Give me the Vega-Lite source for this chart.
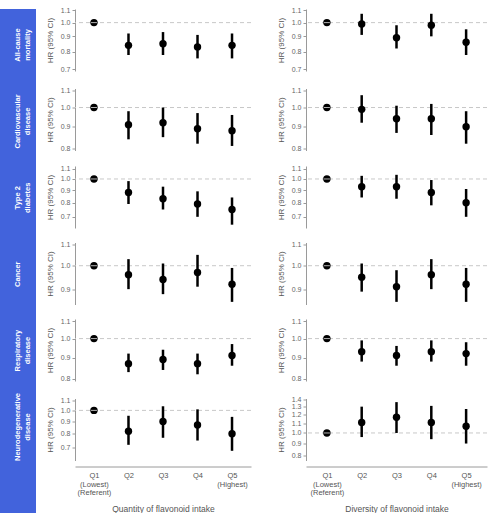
{
"$schema":"https://vega.github.io/schema/vega-lite/v6.json",
"padding":{"left":0,"top":6,"right":0,"bottom":0},
"config":{"view":{"stroke":null},"font":"Liberation Sans",
"axis":{"grid":false,"labelFontSize":7,"titleFontSize":8,"labelColor":"#666","titleColor":"#555","domainColor":"#9a9a9a","tickColor":"#9a9a9a","tickSize":3,"titleFontWeight":"normal","labelPadding":2,"titlePadding":6},
"axisX":{"ticks":false,"offset":6,"labelAngle":0,"labelFontSize":7.5,"labelLineHeight":8.5,"labelPadding":5,"titlePadding":8,"labelColor":"#555","titleFontSize":8.5}},
"datasets":{
"labels":[{"outcome":"All-cause|mortality"},{"outcome":"Cardiovascular|disease"},{"outcome":"Type 2|diabetes"},{"outcome":"Cancer"},{"outcome":"Respiratory|disease"},{"outcome":"Neurodegenerative|disease"}],
"hr":[
{"outcome":"All-cause mortality","intake":"Quantity","quintile":"Q1","hr":1.0,"lower":1.0,"upper":1.0},
{"outcome":"All-cause mortality","intake":"Quantity","quintile":"Q2","hr":0.84,"lower":0.78,"upper":0.92},
{"outcome":"All-cause mortality","intake":"Quantity","quintile":"Q3","hr":0.85,"lower":0.78,"upper":0.93},
{"outcome":"All-cause mortality","intake":"Quantity","quintile":"Q4","hr":0.83,"lower":0.76,"upper":0.91},
{"outcome":"All-cause mortality","intake":"Quantity","quintile":"Q5","hr":0.84,"lower":0.76,"upper":0.92},
{"outcome":"Cardiovascular disease","intake":"Quantity","quintile":"Q1","hr":1.0,"lower":1.0,"upper":1.0},
{"outcome":"Cardiovascular disease","intake":"Quantity","quintile":"Q2","hr":0.91,"lower":0.84,"upper":0.98},
{"outcome":"Cardiovascular disease","intake":"Quantity","quintile":"Q3","hr":0.92,"lower":0.85,"upper":1.0},
{"outcome":"Cardiovascular disease","intake":"Quantity","quintile":"Q4","hr":0.89,"lower":0.82,"upper":0.97},
{"outcome":"Cardiovascular disease","intake":"Quantity","quintile":"Q5","hr":0.88,"lower":0.81,"upper":0.96},
{"outcome":"Type 2 diabetes","intake":"Quantity","quintile":"Q1","hr":1.0,"lower":1.0,"upper":1.0},
{"outcome":"Type 2 diabetes","intake":"Quantity","quintile":"Q2","hr":0.88,"lower":0.79,"upper":0.98},
{"outcome":"Type 2 diabetes","intake":"Quantity","quintile":"Q3","hr":0.83,"lower":0.75,"upper":0.93},
{"outcome":"Type 2 diabetes","intake":"Quantity","quintile":"Q4","hr":0.79,"lower":0.7,"upper":0.89},
{"outcome":"Type 2 diabetes","intake":"Quantity","quintile":"Q5","hr":0.75,"lower":0.65,"upper":0.84},
{"outcome":"Cancer","intake":"Quantity","quintile":"Q1","hr":1.0,"lower":1.0,"upper":1.0},
{"outcome":"Cancer","intake":"Quantity","quintile":"Q2","hr":0.96,"lower":0.9,"upper":1.03},
{"outcome":"Cancer","intake":"Quantity","quintile":"Q3","hr":0.94,"lower":0.88,"upper":1.01},
{"outcome":"Cancer","intake":"Quantity","quintile":"Q4","hr":0.97,"lower":0.91,"upper":1.05},
{"outcome":"Cancer","intake":"Quantity","quintile":"Q5","hr":0.92,"lower":0.85,"upper":0.99},
{"outcome":"Respiratory disease","intake":"Quantity","quintile":"Q1","hr":1.0,"lower":1.0,"upper":1.0},
{"outcome":"Respiratory disease","intake":"Quantity","quintile":"Q2","hr":0.87,"lower":0.83,"upper":0.92},
{"outcome":"Respiratory disease","intake":"Quantity","quintile":"Q3","hr":0.89,"lower":0.84,"upper":0.94},
{"outcome":"Respiratory disease","intake":"Quantity","quintile":"Q4","hr":0.87,"lower":0.82,"upper":0.92},
{"outcome":"Respiratory disease","intake":"Quantity","quintile":"Q5","hr":0.91,"lower":0.86,"upper":0.97},
{"outcome":"Neurodegenerative disease","intake":"Quantity","quintile":"Q1","hr":1.0,"lower":1.0,"upper":1.0},
{"outcome":"Neurodegenerative disease","intake":"Quantity","quintile":"Q2","hr":0.82,"lower":0.72,"upper":0.95},
{"outcome":"Neurodegenerative disease","intake":"Quantity","quintile":"Q3","hr":0.9,"lower":0.77,"upper":1.04},
{"outcome":"Neurodegenerative disease","intake":"Quantity","quintile":"Q4","hr":0.87,"lower":0.75,"upper":1.01},
{"outcome":"Neurodegenerative disease","intake":"Quantity","quintile":"Q5","hr":0.8,"lower":0.68,"upper":0.94},
{"outcome":"All-cause mortality","intake":"Diversity","quintile":"Q1","hr":1.0,"lower":1.0,"upper":1.0},
{"outcome":"All-cause mortality","intake":"Diversity","quintile":"Q2","hr":0.99,"lower":0.91,"upper":1.07},
{"outcome":"All-cause mortality","intake":"Diversity","quintile":"Q3","hr":0.89,"lower":0.82,"upper":0.98},
{"outcome":"All-cause mortality","intake":"Diversity","quintile":"Q4","hr":0.98,"lower":0.9,"upper":1.07},
{"outcome":"All-cause mortality","intake":"Diversity","quintile":"Q5","hr":0.86,"lower":0.78,"upper":0.95},
{"outcome":"Cardiovascular disease","intake":"Diversity","quintile":"Q1","hr":1.0,"lower":1.0,"upper":1.0},
{"outcome":"Cardiovascular disease","intake":"Diversity","quintile":"Q2","hr":0.99,"lower":0.92,"upper":1.07},
{"outcome":"Cardiovascular disease","intake":"Diversity","quintile":"Q3","hr":0.94,"lower":0.87,"upper":1.01},
{"outcome":"Cardiovascular disease","intake":"Diversity","quintile":"Q4","hr":0.94,"lower":0.86,"upper":1.02},
{"outcome":"Cardiovascular disease","intake":"Diversity","quintile":"Q5","hr":0.9,"lower":0.82,"upper":0.98},
{"outcome":"Type 2 diabetes","intake":"Diversity","quintile":"Q1","hr":1.0,"lower":1.0,"upper":1.0},
{"outcome":"Type 2 diabetes","intake":"Diversity","quintile":"Q2","hr":0.93,"lower":0.84,"upper":1.03},
{"outcome":"Type 2 diabetes","intake":"Diversity","quintile":"Q3","hr":0.93,"lower":0.83,"upper":1.04},
{"outcome":"Type 2 diabetes","intake":"Diversity","quintile":"Q4","hr":0.88,"lower":0.78,"upper":0.99},
{"outcome":"Type 2 diabetes","intake":"Diversity","quintile":"Q5","hr":0.8,"lower":0.7,"upper":0.91},
{"outcome":"Cancer","intake":"Diversity","quintile":"Q1","hr":1.0,"lower":1.0,"upper":1.0},
{"outcome":"Cancer","intake":"Diversity","quintile":"Q2","hr":0.95,"lower":0.89,"upper":1.01},
{"outcome":"Cancer","intake":"Diversity","quintile":"Q3","hr":0.91,"lower":0.85,"upper":0.98},
{"outcome":"Cancer","intake":"Diversity","quintile":"Q4","hr":0.96,"lower":0.9,"upper":1.03},
{"outcome":"Cancer","intake":"Diversity","quintile":"Q5","hr":0.92,"lower":0.85,"upper":0.99},
{"outcome":"Respiratory disease","intake":"Diversity","quintile":"Q1","hr":1.0,"lower":1.0,"upper":1.0},
{"outcome":"Respiratory disease","intake":"Diversity","quintile":"Q2","hr":0.93,"lower":0.88,"upper":0.99},
{"outcome":"Respiratory disease","intake":"Diversity","quintile":"Q3","hr":0.91,"lower":0.86,"upper":0.96},
{"outcome":"Respiratory disease","intake":"Diversity","quintile":"Q4","hr":0.93,"lower":0.88,"upper":0.99},
{"outcome":"Respiratory disease","intake":"Diversity","quintile":"Q5","hr":0.92,"lower":0.86,"upper":0.98},
{"outcome":"Neurodegenerative disease","intake":"Diversity","quintile":"Q1","hr":1.0,"lower":1.0,"upper":1.0},
{"outcome":"Neurodegenerative disease","intake":"Diversity","quintile":"Q2","hr":1.11,"lower":0.96,"upper":1.3},
{"outcome":"Neurodegenerative disease","intake":"Diversity","quintile":"Q3","hr":1.17,"lower":1.0,"upper":1.36},
{"outcome":"Neurodegenerative disease","intake":"Diversity","quintile":"Q4","hr":1.11,"lower":0.94,"upper":1.31},
{"outcome":"Neurodegenerative disease","intake":"Diversity","quintile":"Q5","hr":1.07,"lower":0.9,"upper":1.27}
]},
"spacing":10,
"hconcat":[
{"width":36,"height":504,"view":{"fill":"#4263dc","stroke":null},"data":{"name":"labels"},
"mark":{"type":"text","angle":270,"color":"white","fontWeight":"bold","fontSize":7.5,"lineBreak":"|","lineHeight":9.5},
"encoding":{"text":{"field":"outcome","type":"nominal"},"y":{"field":"outcome","type":"nominal","sort":null,"scale":{"type":"point","range":[36,418],"padding":0},"axis":null}}},
{"vconcat":[
{"spacing":25,"hconcat":[
{"width":176,"height":62,"data":{"name":"hr"},"transform":[{"filter":"datum.outcome==='All-cause mortality'&&datum.intake==='Quantity'"}],"layer":[
{"transform":[{"filter":"datum.quintile==='Q1'"}],"mark":{"type":"rule","color":"#c8c8c8","strokeDash":[4,3],"strokeWidth":1},"encoding":{"y":{"datum":1,"type":"quantitative"}}},
{"mark":{"type":"rule","color":"black","strokeWidth":2.5},"encoding":{"x":{"field":"quintile","type":"ordinal","scale":{"type":"point","padding":0.55},"axis":null},"y":{"field":"lower","type":"quantitative","scale":{"type":"log","domain":[0.69,1.11],"nice":false},"axis":{"title":"HR (95% CI)","values":[0.7,0.8,0.9,1,1.1],"format":".1f"}},"y2":{"field":"upper"}}},
{"mark":{"type":"circle","size":55,"color":"black","opacity":1},"encoding":{"x":{"field":"quintile","type":"ordinal","scale":{"type":"point","padding":0.55},"axis":null},"y":{"field":"hr","type":"quantitative","axis":{"title":"HR (95% CI)","values":[0.7,0.8,0.9,1,1.1],"format":".1f"}}}},
{"transform":[{"filter":"datum.quintile==='Q1'"}],"mark":{"type":"tick","color":"white","size":6,"thickness":1},"encoding":{"x":{"field":"quintile","type":"ordinal","scale":{"type":"point","padding":0.55},"axis":null},"y":{"field":"hr","type":"quantitative","axis":{"title":"HR (95% CI)","values":[0.7,0.8,0.9,1,1.1],"format":".1f"}}}}]},
{"width":181,"height":62,"data":{"name":"hr"},"transform":[{"filter":"datum.outcome==='All-cause mortality'&&datum.intake==='Diversity'"}],"layer":[
{"transform":[{"filter":"datum.quintile==='Q1'"}],"mark":{"type":"rule","color":"#c8c8c8","strokeDash":[4,3],"strokeWidth":1},"encoding":{"y":{"datum":1,"type":"quantitative"}}},
{"mark":{"type":"rule","color":"black","strokeWidth":2.5},"encoding":{"x":{"field":"quintile","type":"ordinal","scale":{"type":"point","padding":0.6},"axis":null},"y":{"field":"lower","type":"quantitative","scale":{"type":"log","domain":[0.69,1.11],"nice":false},"axis":{"title":"HR (95% CI)","values":[0.7,0.8,0.9,1,1.1],"format":".1f"}},"y2":{"field":"upper"}}},
{"mark":{"type":"circle","size":55,"color":"black","opacity":1},"encoding":{"x":{"field":"quintile","type":"ordinal","scale":{"type":"point","padding":0.6},"axis":null},"y":{"field":"hr","type":"quantitative","axis":{"title":"HR (95% CI)","values":[0.7,0.8,0.9,1,1.1],"format":".1f"}}}},
{"transform":[{"filter":"datum.quintile==='Q1'"}],"mark":{"type":"tick","color":"white","size":6,"thickness":1},"encoding":{"x":{"field":"quintile","type":"ordinal","scale":{"type":"point","padding":0.6},"axis":null},"y":{"field":"hr","type":"quantitative","axis":{"title":"HR (95% CI)","values":[0.7,0.8,0.9,1,1.1],"format":".1f"}}}}]}
]},
{"spacing":25,"hconcat":[
{"width":176,"height":62,"data":{"name":"hr"},"transform":[{"filter":"datum.outcome==='Cardiovascular disease'&&datum.intake==='Quantity'"}],"layer":[
{"transform":[{"filter":"datum.quintile==='Q1'"}],"mark":{"type":"rule","color":"#c8c8c8","strokeDash":[4,3],"strokeWidth":1},"encoding":{"y":{"datum":1,"type":"quantitative"}}},
{"mark":{"type":"rule","color":"black","strokeWidth":2.5},"encoding":{"x":{"field":"quintile","type":"ordinal","scale":{"type":"point","padding":0.55},"axis":null},"y":{"field":"lower","type":"quantitative","scale":{"type":"log","domain":[0.79,1.11],"nice":false},"axis":{"title":"HR (95% CI)","values":[0.8,0.9,1,1.1],"format":".1f"}},"y2":{"field":"upper"}}},
{"mark":{"type":"circle","size":55,"color":"black","opacity":1},"encoding":{"x":{"field":"quintile","type":"ordinal","scale":{"type":"point","padding":0.55},"axis":null},"y":{"field":"hr","type":"quantitative","axis":{"title":"HR (95% CI)","values":[0.8,0.9,1,1.1],"format":".1f"}}}},
{"transform":[{"filter":"datum.quintile==='Q1'"}],"mark":{"type":"tick","color":"white","size":6,"thickness":1},"encoding":{"x":{"field":"quintile","type":"ordinal","scale":{"type":"point","padding":0.55},"axis":null},"y":{"field":"hr","type":"quantitative","axis":{"title":"HR (95% CI)","values":[0.8,0.9,1,1.1],"format":".1f"}}}}]},
{"width":181,"height":62,"data":{"name":"hr"},"transform":[{"filter":"datum.outcome==='Cardiovascular disease'&&datum.intake==='Diversity'"}],"layer":[
{"transform":[{"filter":"datum.quintile==='Q1'"}],"mark":{"type":"rule","color":"#c8c8c8","strokeDash":[4,3],"strokeWidth":1},"encoding":{"y":{"datum":1,"type":"quantitative"}}},
{"mark":{"type":"rule","color":"black","strokeWidth":2.5},"encoding":{"x":{"field":"quintile","type":"ordinal","scale":{"type":"point","padding":0.6},"axis":null},"y":{"field":"lower","type":"quantitative","scale":{"type":"log","domain":[0.79,1.11],"nice":false},"axis":{"title":"HR (95% CI)","values":[0.8,0.9,1,1.1],"format":".1f"}},"y2":{"field":"upper"}}},
{"mark":{"type":"circle","size":55,"color":"black","opacity":1},"encoding":{"x":{"field":"quintile","type":"ordinal","scale":{"type":"point","padding":0.6},"axis":null},"y":{"field":"hr","type":"quantitative","axis":{"title":"HR (95% CI)","values":[0.8,0.9,1,1.1],"format":".1f"}}}},
{"transform":[{"filter":"datum.quintile==='Q1'"}],"mark":{"type":"tick","color":"white","size":6,"thickness":1},"encoding":{"x":{"field":"quintile","type":"ordinal","scale":{"type":"point","padding":0.6},"axis":null},"y":{"field":"hr","type":"quantitative","axis":{"title":"HR (95% CI)","values":[0.8,0.9,1,1.1],"format":".1f"}}}}]}
]},
{"spacing":25,"hconcat":[
{"width":176,"height":62,"data":{"name":"hr"},"transform":[{"filter":"datum.outcome==='Type 2 diabetes'&&datum.intake==='Quantity'"}],"layer":[
{"transform":[{"filter":"datum.quintile==='Q1'"}],"mark":{"type":"rule","color":"#c8c8c8","strokeDash":[4,3],"strokeWidth":1},"encoding":{"y":{"datum":1,"type":"quantitative"}}},
{"mark":{"type":"rule","color":"black","strokeWidth":2.5},"encoding":{"x":{"field":"quintile","type":"ordinal","scale":{"type":"point","padding":0.55},"axis":null},"y":{"field":"lower","type":"quantitative","scale":{"type":"log","domain":[0.63,1.13],"nice":false},"axis":{"title":"HR (95% CI)","values":[0.7,0.8,0.9,1,1.1],"format":".1f"}},"y2":{"field":"upper"}}},
{"mark":{"type":"circle","size":55,"color":"black","opacity":1},"encoding":{"x":{"field":"quintile","type":"ordinal","scale":{"type":"point","padding":0.55},"axis":null},"y":{"field":"hr","type":"quantitative","axis":{"title":"HR (95% CI)","values":[0.7,0.8,0.9,1,1.1],"format":".1f"}}}},
{"transform":[{"filter":"datum.quintile==='Q1'"}],"mark":{"type":"tick","color":"white","size":6,"thickness":1},"encoding":{"x":{"field":"quintile","type":"ordinal","scale":{"type":"point","padding":0.55},"axis":null},"y":{"field":"hr","type":"quantitative","axis":{"title":"HR (95% CI)","values":[0.7,0.8,0.9,1,1.1],"format":".1f"}}}}]},
{"width":181,"height":62,"data":{"name":"hr"},"transform":[{"filter":"datum.outcome==='Type 2 diabetes'&&datum.intake==='Diversity'"}],"layer":[
{"transform":[{"filter":"datum.quintile==='Q1'"}],"mark":{"type":"rule","color":"#c8c8c8","strokeDash":[4,3],"strokeWidth":1},"encoding":{"y":{"datum":1,"type":"quantitative"}}},
{"mark":{"type":"rule","color":"black","strokeWidth":2.5},"encoding":{"x":{"field":"quintile","type":"ordinal","scale":{"type":"point","padding":0.6},"axis":null},"y":{"field":"lower","type":"quantitative","scale":{"type":"log","domain":[0.63,1.13],"nice":false},"axis":{"title":"HR (95% CI)","values":[0.7,0.8,0.9,1,1.1],"format":".1f"}},"y2":{"field":"upper"}}},
{"mark":{"type":"circle","size":55,"color":"black","opacity":1},"encoding":{"x":{"field":"quintile","type":"ordinal","scale":{"type":"point","padding":0.6},"axis":null},"y":{"field":"hr","type":"quantitative","axis":{"title":"HR (95% CI)","values":[0.7,0.8,0.9,1,1.1],"format":".1f"}}}},
{"transform":[{"filter":"datum.quintile==='Q1'"}],"mark":{"type":"tick","color":"white","size":6,"thickness":1},"encoding":{"x":{"field":"quintile","type":"ordinal","scale":{"type":"point","padding":0.6},"axis":null},"y":{"field":"hr","type":"quantitative","axis":{"title":"HR (95% CI)","values":[0.7,0.8,0.9,1,1.1],"format":".1f"}}}}]}
]},
{"spacing":25,"hconcat":[
{"width":176,"height":62,"data":{"name":"hr"},"transform":[{"filter":"datum.outcome==='Cancer'&&datum.intake==='Quantity'"}],"layer":[
{"transform":[{"filter":"datum.quintile==='Q1'"}],"mark":{"type":"rule","color":"#c8c8c8","strokeDash":[4,3],"strokeWidth":1},"encoding":{"y":{"datum":1,"type":"quantitative"}}},
{"mark":{"type":"rule","color":"black","strokeWidth":2.5},"encoding":{"x":{"field":"quintile","type":"ordinal","scale":{"type":"point","padding":0.55},"axis":null},"y":{"field":"lower","type":"quantitative","scale":{"type":"log","domain":[0.84,1.11],"nice":false},"axis":{"title":"HR (95% CI)","values":[0.9,1,1.1],"format":".1f"}},"y2":{"field":"upper"}}},
{"mark":{"type":"circle","size":55,"color":"black","opacity":1},"encoding":{"x":{"field":"quintile","type":"ordinal","scale":{"type":"point","padding":0.55},"axis":null},"y":{"field":"hr","type":"quantitative","axis":{"title":"HR (95% CI)","values":[0.9,1,1.1],"format":".1f"}}}},
{"transform":[{"filter":"datum.quintile==='Q1'"}],"mark":{"type":"tick","color":"white","size":6,"thickness":1},"encoding":{"x":{"field":"quintile","type":"ordinal","scale":{"type":"point","padding":0.55},"axis":null},"y":{"field":"hr","type":"quantitative","axis":{"title":"HR (95% CI)","values":[0.9,1,1.1],"format":".1f"}}}}]},
{"width":181,"height":62,"data":{"name":"hr"},"transform":[{"filter":"datum.outcome==='Cancer'&&datum.intake==='Diversity'"}],"layer":[
{"transform":[{"filter":"datum.quintile==='Q1'"}],"mark":{"type":"rule","color":"#c8c8c8","strokeDash":[4,3],"strokeWidth":1},"encoding":{"y":{"datum":1,"type":"quantitative"}}},
{"mark":{"type":"rule","color":"black","strokeWidth":2.5},"encoding":{"x":{"field":"quintile","type":"ordinal","scale":{"type":"point","padding":0.6},"axis":null},"y":{"field":"lower","type":"quantitative","scale":{"type":"log","domain":[0.84,1.11],"nice":false},"axis":{"title":"HR (95% CI)","values":[0.9,1,1.1],"format":".1f"}},"y2":{"field":"upper"}}},
{"mark":{"type":"circle","size":55,"color":"black","opacity":1},"encoding":{"x":{"field":"quintile","type":"ordinal","scale":{"type":"point","padding":0.6},"axis":null},"y":{"field":"hr","type":"quantitative","axis":{"title":"HR (95% CI)","values":[0.9,1,1.1],"format":".1f"}}}},
{"transform":[{"filter":"datum.quintile==='Q1'"}],"mark":{"type":"tick","color":"white","size":6,"thickness":1},"encoding":{"x":{"field":"quintile","type":"ordinal","scale":{"type":"point","padding":0.6},"axis":null},"y":{"field":"hr","type":"quantitative","axis":{"title":"HR (95% CI)","values":[0.9,1,1.1],"format":".1f"}}}}]}
]},
{"spacing":25,"hconcat":[
{"width":176,"height":62,"data":{"name":"hr"},"transform":[{"filter":"datum.outcome==='Respiratory disease'&&datum.intake==='Quantity'"}],"layer":[
{"transform":[{"filter":"datum.quintile==='Q1'"}],"mark":{"type":"rule","color":"#c8c8c8","strokeDash":[4,3],"strokeWidth":1},"encoding":{"y":{"datum":1,"type":"quantitative"}}},
{"mark":{"type":"rule","color":"black","strokeWidth":2.5},"encoding":{"x":{"field":"quintile","type":"ordinal","scale":{"type":"point","padding":0.55},"axis":null},"y":{"field":"lower","type":"quantitative","scale":{"type":"log","domain":[0.79,1.115],"nice":false},"axis":{"title":"HR (95% CI)","values":[0.8,0.9,1,1.1],"format":".1f"}},"y2":{"field":"upper"}}},
{"mark":{"type":"circle","size":55,"color":"black","opacity":1},"encoding":{"x":{"field":"quintile","type":"ordinal","scale":{"type":"point","padding":0.55},"axis":null},"y":{"field":"hr","type":"quantitative","axis":{"title":"HR (95% CI)","values":[0.8,0.9,1,1.1],"format":".1f"}}}},
{"transform":[{"filter":"datum.quintile==='Q1'"}],"mark":{"type":"tick","color":"white","size":6,"thickness":1},"encoding":{"x":{"field":"quintile","type":"ordinal","scale":{"type":"point","padding":0.55},"axis":null},"y":{"field":"hr","type":"quantitative","axis":{"title":"HR (95% CI)","values":[0.8,0.9,1,1.1],"format":".1f"}}}}]},
{"width":181,"height":62,"data":{"name":"hr"},"transform":[{"filter":"datum.outcome==='Respiratory disease'&&datum.intake==='Diversity'"}],"layer":[
{"transform":[{"filter":"datum.quintile==='Q1'"}],"mark":{"type":"rule","color":"#c8c8c8","strokeDash":[4,3],"strokeWidth":1},"encoding":{"y":{"datum":1,"type":"quantitative"}}},
{"mark":{"type":"rule","color":"black","strokeWidth":2.5},"encoding":{"x":{"field":"quintile","type":"ordinal","scale":{"type":"point","padding":0.6},"axis":null},"y":{"field":"lower","type":"quantitative","scale":{"type":"log","domain":[0.79,1.115],"nice":false},"axis":{"title":"HR (95% CI)","values":[0.8,0.9,1,1.1],"format":".1f"}},"y2":{"field":"upper"}}},
{"mark":{"type":"circle","size":55,"color":"black","opacity":1},"encoding":{"x":{"field":"quintile","type":"ordinal","scale":{"type":"point","padding":0.6},"axis":null},"y":{"field":"hr","type":"quantitative","axis":{"title":"HR (95% CI)","values":[0.8,0.9,1,1.1],"format":".1f"}}}},
{"transform":[{"filter":"datum.quintile==='Q1'"}],"mark":{"type":"tick","color":"white","size":6,"thickness":1},"encoding":{"x":{"field":"quintile","type":"ordinal","scale":{"type":"point","padding":0.6},"axis":null},"y":{"field":"hr","type":"quantitative","axis":{"title":"HR (95% CI)","values":[0.8,0.9,1,1.1],"format":".1f"}}}}]}
]},
{"spacing":25,"hconcat":[
{"width":176,"height":62,"data":{"name":"hr"},"transform":[{"filter":"datum.outcome==='Neurodegenerative disease'&&datum.intake==='Quantity'"}],"layer":[
{"transform":[{"filter":"datum.quintile==='Q1'"}],"mark":{"type":"rule","color":"#c8c8c8","strokeDash":[4,3],"strokeWidth":1},"encoding":{"y":{"datum":1,"type":"quantitative"}}},
{"mark":{"type":"rule","color":"black","strokeWidth":2.5},"encoding":{"x":{"field":"quintile","type":"ordinal","scale":{"type":"point","padding":0.55},"axis":{"title":"Quantity of flavonoid intake","labelExpr":"datum.value==='Q1'?['Q1','(Lowest)','(Referent)']:datum.value==='Q5'?['Q5','(Highest)']:datum.value"}},"y":{"field":"lower","type":"quantitative","scale":{"type":"log","domain":[0.62,1.12],"nice":false},"axis":{"title":"HR (95% CI)","values":[0.7,0.8,0.9,1,1.1],"format":".1f"}},"y2":{"field":"upper"}}},
{"mark":{"type":"circle","size":55,"color":"black","opacity":1},"encoding":{"x":{"field":"quintile","type":"ordinal","scale":{"type":"point","padding":0.55},"axis":{"title":"Quantity of flavonoid intake","labelExpr":"datum.value==='Q1'?['Q1','(Lowest)','(Referent)']:datum.value==='Q5'?['Q5','(Highest)']:datum.value"}},"y":{"field":"hr","type":"quantitative","axis":{"title":"HR (95% CI)","values":[0.7,0.8,0.9,1,1.1],"format":".1f"}}}},
{"transform":[{"filter":"datum.quintile==='Q1'"}],"mark":{"type":"tick","color":"white","size":6,"thickness":1},"encoding":{"x":{"field":"quintile","type":"ordinal","scale":{"type":"point","padding":0.55},"axis":{"title":"Quantity of flavonoid intake","labelExpr":"datum.value==='Q1'?['Q1','(Lowest)','(Referent)']:datum.value==='Q5'?['Q5','(Highest)']:datum.value"}},"y":{"field":"hr","type":"quantitative","axis":{"title":"HR (95% CI)","values":[0.7,0.8,0.9,1,1.1],"format":".1f"}}}}]},
{"width":181,"height":62,"data":{"name":"hr"},"transform":[{"filter":"datum.outcome==='Neurodegenerative disease'&&datum.intake==='Diversity'"}],"layer":[
{"transform":[{"filter":"datum.quintile==='Q1'"}],"mark":{"type":"rule","color":"#c8c8c8","strokeDash":[4,3],"strokeWidth":1},"encoding":{"y":{"datum":1,"type":"quantitative"}}},
{"mark":{"type":"rule","color":"black","strokeWidth":2.5},"encoding":{"x":{"field":"quintile","type":"ordinal","scale":{"type":"point","padding":0.6},"axis":{"title":"Diversity of flavonoid intake","labelExpr":"datum.value==='Q1'?['Q1','(Lowest)','(Referent)']:datum.value==='Q5'?['Q5','(Highest)']:datum.value"}},"y":{"field":"lower","type":"quantitative","scale":{"type":"log","domain":[0.76,1.41],"nice":false},"axis":{"title":"HR (95% CI)","values":[0.8,0.9,1,1.1,1.2,1.3,1.4],"format":".1f"}},"y2":{"field":"upper"}}},
{"mark":{"type":"circle","size":55,"color":"black","opacity":1},"encoding":{"x":{"field":"quintile","type":"ordinal","scale":{"type":"point","padding":0.6},"axis":{"title":"Diversity of flavonoid intake","labelExpr":"datum.value==='Q1'?['Q1','(Lowest)','(Referent)']:datum.value==='Q5'?['Q5','(Highest)']:datum.value"}},"y":{"field":"hr","type":"quantitative","axis":{"title":"HR (95% CI)","values":[0.8,0.9,1,1.1,1.2,1.3,1.4],"format":".1f"}}}},
{"transform":[{"filter":"datum.quintile==='Q1'"}],"mark":{"type":"tick","color":"white","size":6,"thickness":1},"encoding":{"x":{"field":"quintile","type":"ordinal","scale":{"type":"point","padding":0.6},"axis":{"title":"Diversity of flavonoid intake","labelExpr":"datum.value==='Q1'?['Q1','(Lowest)','(Referent)']:datum.value==='Q5'?['Q5','(Highest)']:datum.value"}},"y":{"field":"hr","type":"quantitative","axis":{"title":"HR (95% CI)","values":[0.8,0.9,1,1.1,1.2,1.3,1.4],"format":".1f"}}}}]}
]}
],"spacing":12.5}
]
}
